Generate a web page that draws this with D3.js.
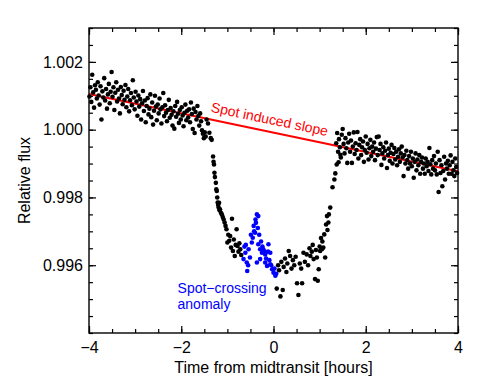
<!DOCTYPE html>
<html>
<head>
<meta charset="utf-8">
<script src="https://cdn.jsdelivr.net/npm/d3@7"></script>
<style>
  body { margin: 0; background: white; }
  svg { display: block; font-family: "Liberation Sans", Arial, Helvetica, sans-serif; }
</style>
</head>
<body>
<script>
// tick values
var xTicks = [-4, -2, 0, 2, 4],
    xMinor = d3.range(-4, 4.01, 0.5),
    yTicks = [0.996, 0.998, 1.000, 1.002],
    yMinor = d3.range(0.994, 1.00301, 0.0005);

// spot induced slope, end points [time, flux]
var slopeLine = [[-4, 1.00105], [4, 0.99877]];

// out of transit, before ingress [time, flux]
var preTransit = [
  [-3.99,1.00098],[-3.97,1.00125],[-3.95,1.00082],[-3.93,1.00162],[-3.91,1.00110],[-3.89,1.00065],
  [-3.87,1.00131],[-3.85,1.00118],[-3.83,1.00092],[-3.81,1.00140],[-3.79,1.00101],[-3.77,1.00074],
  [-3.75,1.00128],[-3.73,1.00030],[-3.71,1.00113],[-3.69,1.00095],[-3.67,1.00152],[-3.65,1.00086],
  [-3.63,1.00120],[-3.61,1.00062],[-3.59,1.00104],[-3.57,1.00135],[-3.55,1.00078],[-3.53,1.00112],
  [-3.51,1.00170],[-3.49,1.00097],[-3.47,1.00125],[-3.45,1.00058],[-3.43,1.00109],[-3.41,1.00140],
  [-3.39,1.00083],[-3.37,1.00118],[-3.35,1.00092],[-3.33,1.00048],[-3.31,1.00126],[-3.29,1.00102],
  [-3.27,1.00075],[-3.25,1.00115],[-3.23,1.00088],[-3.21,1.00132],[-3.19,1.00066],[-3.17,1.00098],
  [-3.15,1.00120],[-3.13,1.00054],[-3.11,1.00087],[-3.09,1.00108],[-3.07,1.00072],[-3.05,1.00146],
  [-3.03,1.00095],[-3.01,1.00060],[-2.99,1.00112],[-2.97,1.00083],[-2.95,1.00041],[-2.93,1.00101],
  [-2.91,1.00068],[-2.89,1.00090],[-2.87,1.00030],[-2.85,1.00078],[-2.83,1.00114],[-2.81,1.00055],
  [-2.79,1.00086],[-2.77,1.00022],[-2.75,1.00070],[-2.73,1.00093],[-2.71,1.00045],[-2.69,1.00062],
  [-2.67,1.00104],[-2.65,1.00037],[-2.63,1.00080],[-2.61,1.00015],[-2.59,1.00056],[-2.57,1.00100],
  [-2.55,1.00068],[-2.53,1.00028],[-2.51,1.00074],[-2.49,1.00048],[-2.47,1.00092],[-2.45,1.00060],
  [-2.43,1.00018],[-2.41,1.00066],[-2.39,1.00108],[-2.37,1.00040],[-2.35,1.00072],[-2.33,1.00050],
  [-2.31,1.00025],[-2.29,1.00058],[-2.27,1.00088],[-2.25,1.00035],[-2.23,1.00064],[-2.21,1.00044],
  [-2.19,1.00012],[-2.17,1.00054],[-2.15,1.00003],[-2.13,1.00070],[-2.11,1.00038],[-2.09,1.00082],
  [-2.07,1.00047],[-2.05,1.00020],[-2.03,1.00058],[-2.01,1.00030],[-1.99,1.00066],[-1.97,1.00042],
  [-1.95,1.00010],[-1.93,1.00050],[-1.91,1.00074],[-1.89,1.00028],[-1.87,1.00056],[-1.85,1.00036],
  [-1.83,1.00060],[-1.81,1.00022],[-1.79,1.00080],[-1.77,1.00046],[-1.75,1.00002],[-1.73,1.00062],
  [-1.71,0.99990],[-1.69,1.00052],[-1.67,1.00030],[-1.65,1.00070],[-1.63,1.00040],[-1.61,1.00012],
  [-1.59,1.00048],[-1.57,1.00025],[-1.55,0.99998],[-1.53,0.99988],[-1.51,0.99975],[-1.49,0.99992],
  [-1.47,0.99980]
];

// ingress and first part of the bottom
var ingress = [
  [-1.45,1.00030],[-1.42,1.00018],[-1.39,0.99991],[-1.36,0.99975],[-1.34,0.99970],[-1.31,0.99921],
  [-1.30,0.99905],[-1.29,0.99897],[-1.28,0.99873],[-1.27,0.99860],[-1.25,0.99843],[-1.24,0.99824],
  [-1.23,0.99819],[-1.22,0.99800],[-1.21,0.99785],[-1.20,0.99778],[-1.19,0.99770],[-1.18,0.99784],
  [-1.17,0.99762],[-1.16,0.99765],[-1.14,0.99755],[-1.12,0.99750],[-1.10,0.99742],[-1.08,0.99735],
  [-1.06,0.99726],[-1.04,0.99716],[-1.02,0.99706],[-1.00,0.99667],[-0.98,0.99690],[-0.96,0.99672],
  [-0.94,0.99686],[-0.92,0.99652],[-0.90,0.99737],[-0.88,0.99642],[-0.86,0.99676],[-0.84,0.99627],
  [-0.82,0.99660],[-0.80,0.99706],[-0.78,0.99657],[-0.76,0.99640],[-0.74,0.99665],[-0.72,0.99647],
  [-0.70,0.99630]
];

// spot-crossing anomaly (blue)
var spotCrossing = [
  [-0.65,0.99618],[-0.63,0.99655],[-0.61,0.99637],[-0.60,0.99660],[-0.58,0.99608],[-0.57,0.99583],
  [-0.55,0.99600],[-0.54,0.99647],[-0.51,0.99623],[-0.49,0.99690],[-0.47,0.99667],[-0.45,0.99681],
  [-0.43,0.99716],[-0.42,0.99700],[-0.40,0.99696],[-0.39,0.99735],[-0.38,0.99725],[-0.36,0.99750],
  [-0.36,0.99608],[-0.34,0.99710],[-0.33,0.99745],[-0.33,0.99662],[-0.31,0.99690],[-0.29,0.99647],
  [-0.29,0.99618],[-0.27,0.99670],[-0.25,0.99637],[-0.24,0.99655],[-0.22,0.99647],[-0.20,0.99640],
  [-0.18,0.99632],[-0.18,0.99608],[-0.16,0.99620],[-0.14,0.99598],[-0.12,0.99640],[-0.11,0.99662],
  [-0.09,0.99615],[-0.07,0.99637],[-0.07,0.99603],[-0.05,0.99600],[-0.03,0.99588],[0.00,0.99578],
  [0.02,0.99590],[0.04,0.99569],[0.06,0.99575]
];

// rest of the bottom and egress
var egress = [
  [0.07,0.99531],[0.10,0.99600],[0.12,0.99585],[0.15,0.99508],[0.17,0.99610],[0.20,0.99527],
  [0.22,0.99595],[0.25,0.99620],[0.28,0.99580],[0.30,0.99605],[0.33,0.99642],[0.36,0.99627],
  [0.39,0.99590],[0.42,0.99615],[0.45,0.99600],[0.48,0.99625],[0.51,0.99547],[0.54,0.99512],
  [0.57,0.99605],[0.60,0.99590],[0.62,0.99547],[0.65,0.99637],[0.68,0.99610],[0.72,0.99632],
  [0.75,0.99600],[0.78,0.99650],[0.80,0.99627],[0.83,0.99640],[0.85,0.99660],[0.87,0.99618],
  [0.90,0.99559],[0.92,0.99645],[0.94,0.99623],[0.96,0.99554],[0.98,0.99588],[1.00,0.99655],
  [1.01,0.99642],[1.03,0.99680],[1.05,0.99647],[1.06,0.99670],[1.08,0.99652],[1.10,0.99691],
  [1.12,0.99623],[1.14,0.99720],[1.16,0.99745],[1.17,0.99704],[1.19,0.99726],[1.20,0.99750],
  [1.23,0.99770],[1.28,0.99830],[1.32,0.99853],[1.34,0.99871]
];

// out of transit, after egress
var postTransit = [
  [1.36,0.99960],[1.37,0.99897],[1.38,0.99990],[1.40,0.99935],[1.41,0.99904],[1.42,0.99972],
  [1.44,0.99948],[1.45,0.99926],[1.46,0.99918],[1.48,0.99985],[1.50,1.00002],[1.52,0.99958],
  [1.54,0.99930],[1.56,0.99975],[1.58,0.99945],[1.60,0.99902],[1.62,0.99962],[1.64,0.99988],
  [1.66,0.99935],[1.68,0.99968],[1.70,0.99902],[1.72,0.99950],[1.74,0.99992],[1.76,0.99928],
  [1.78,0.99960],[1.80,0.99940],[1.82,0.99993],[1.84,0.99915],[1.86,0.99955],[1.88,0.99972],
  [1.90,0.99925],[1.92,0.99948],[1.94,0.99965],[1.96,0.99905],[1.98,0.99940],[2.00,0.99980],
  [2.02,0.99932],[2.04,0.99958],[2.06,0.99912],[2.08,0.99945],[2.10,0.99970],[2.12,0.99922],
  [2.14,0.99950],[2.16,0.99935],[2.18,0.99962],[2.20,0.99910],[2.22,0.99944],[2.24,0.99978],
  [2.26,0.99925],[2.28,0.99980],[2.30,0.99940],[2.32,0.99958],[2.34,0.99896],[2.36,0.99930],
  [2.38,0.99948],[2.40,0.99915],[2.42,0.99938],[2.44,0.99962],[2.46,0.99887],[2.48,0.99925],
  [2.50,0.99944],[2.52,0.99908],[2.54,0.99932],[2.56,0.99955],[2.58,0.99900],[2.60,0.99928],
  [2.62,0.99946],[2.64,0.99912],[2.66,0.99935],[2.68,0.99895],[2.70,0.99920],[2.72,0.99942],
  [2.74,0.99905],[2.76,0.99930],[2.78,0.99950],[2.80,0.99918],[2.82,0.99863],[2.84,0.99925],
  [2.86,0.99900],[2.88,0.99938],[2.90,0.99910],[2.92,0.99885],[2.94,0.99922],[2.96,0.99900],
  [2.98,0.99935],[3.00,0.99892],[3.02,0.99915],[3.04,0.99858],[3.06,0.99905],[3.08,0.99930],
  [3.10,0.99880],[3.12,0.99912],[3.14,0.99895],[3.16,0.99925],[3.18,0.99870],[3.20,0.99905],
  [3.22,0.99918],[3.24,0.99885],[3.26,0.99900],[3.28,0.99870],[3.30,0.99915],[3.32,0.99892],
  [3.34,0.99905],[3.36,0.99878],[3.38,0.99946],[3.40,0.99898],[3.42,0.99868],[3.44,0.99910],
  [3.46,0.99885],[3.48,0.99922],[3.50,0.99880],[3.52,0.99900],[3.54,0.99868],[3.56,0.99935],
  [3.58,0.99816],[3.60,0.99910],[3.62,0.99872],[3.64,0.99895],[3.66,0.99833],[3.68,0.99878],
  [3.70,0.99920],[3.72,0.99853],[3.74,0.99900],[3.76,0.99885],[3.78,0.99908],[3.80,0.99870],
  [3.82,0.99895],[3.84,0.99924],[3.86,0.99870],[3.88,0.99905],[3.90,0.99880],[3.92,0.99863],
  [3.94,0.99915],[3.96,0.99890],[3.98,0.99872]
];

var width = 485,
    height = 390,
    margin = {top: 28, right: 27, bottom: 57, left: 89};

var svg = d3.select("body").append("svg")
    .attr("width", width)
    .attr("height", height)
    .style("background", "white");

var x = d3.scaleLinear().domain([-4, 4]).range([margin.left, width - margin.right]),
    y = d3.scaleLinear().domain([0.994, 1.003]).range([height - margin.bottom, margin.top]);

var x0 = x.range()[0], x1 = x.range()[1],
    y0 = y.range()[0], y1 = y.range()[1];

// slope line
svg.append("line")
    .attr("x1", x(slopeLine[0][0]))
    .attr("y1", y(slopeLine[0][1]))
    .attr("x2", x(slopeLine[1][0]))
    .attr("y2", y(slopeLine[1][1]))
    .attr("stroke", "#ff0000")
    .attr("stroke-width", 2);

// data points
var black = preTransit.concat(ingress, egress, postTransit);

svg.append("g").selectAll("circle")
    .data(black)
  .enter().append("circle")
    .attr("cx", function(d) { return x(d[0]); })
    .attr("cy", function(d) { return y(d[1]); })
    .attr("r", 2.3)
    .attr("fill", "black");

svg.append("g").selectAll("circle")
    .data(spotCrossing)
  .enter().append("circle")
    .attr("cx", function(d) { return x(d[0]); })
    .attr("cy", function(d) { return y(d[1]); })
    .attr("r", 2.3)
    .attr("fill", "#0000ff");

// axes, ticks pointing inward on all four sides
function styleAxis(g) {
  g.select(".domain").remove();
  g.selectAll("line").attr("stroke", "black").attr("stroke-width", 1.2);
  g.selectAll("text").attr("fill", "black").style("font-size", "16px")
      .style("font-family", "'Liberation Sans', Arial, Helvetica, sans-serif");
}

svg.append("g")
    .attr("transform", "translate(0," + y0 + ")")
    .call(d3.axisBottom(x).tickValues(xMinor).tickSize(-4).tickFormat(""))
    .call(styleAxis);
svg.append("g")
    .attr("transform", "translate(0," + y0 + ")")
    .call(d3.axisBottom(x).tickValues(xTicks).tickSize(-7).tickPadding(9).tickFormat(d3.format("d")))
    .call(styleAxis);
svg.append("g")
    .attr("transform", "translate(0," + y1 + ")")
    .call(d3.axisTop(x).tickValues(xMinor).tickSize(-4).tickFormat(""))
    .call(styleAxis);
svg.append("g")
    .attr("transform", "translate(0," + y1 + ")")
    .call(d3.axisTop(x).tickValues(xTicks).tickSize(-7).tickFormat(""))
    .call(styleAxis);

svg.append("g")
    .attr("transform", "translate(" + x0 + ",0)")
    .call(d3.axisLeft(y).tickValues(yMinor).tickSize(-4).tickFormat(""))
    .call(styleAxis);
svg.append("g")
    .attr("transform", "translate(" + x0 + ",0)")
    .call(d3.axisLeft(y).tickValues(yTicks).tickSize(-7).tickPadding(6).tickFormat(d3.format(".3f")))
    .call(styleAxis);
svg.append("g")
    .attr("transform", "translate(" + x1 + ",0)")
    .call(d3.axisRight(y).tickValues(yMinor).tickSize(-4).tickFormat(""))
    .call(styleAxis);
svg.append("g")
    .attr("transform", "translate(" + x1 + ",0)")
    .call(d3.axisRight(y).tickValues(yTicks).tickSize(-7).tickFormat(""))
    .call(styleAxis);

// frame
svg.append("rect")
    .attr("x", x0)
    .attr("y", y1)
    .attr("width", x1 - x0)
    .attr("height", y0 - y1)
    .attr("fill", "none")
    .attr("stroke", "black")
    .attr("stroke-width", 1.4);

// axis titles
svg.append("text")
    .attr("x", (x0 + x1) / 2)
    .attr("y", 373)
    .style("text-anchor", "middle")
    .style("font-size", "16px")
    .text("Time from midtransit [hours]");

svg.append("text")
    .attr("transform", "translate(30," + ((y0 + y1) / 2) + ") rotate(-90)")
    .style("text-anchor", "middle")
    .style("font-size", "16px")
    .text("Relative flux");

// annotations
var angle = Math.atan2(y(slopeLine[1][1]) - y(slopeLine[0][1]),
                       x(slopeLine[1][0]) - x(slopeLine[0][0])) * 180 / Math.PI;

svg.append("text")
    .attr("transform", "translate(" + x(-1.37) + "," + y(1.00053) + ") rotate(" + angle + ")")
    .style("font-size", "14px")
    .style("fill", "#ff0000")
    .text("Spot induced slope");

var blueLabel = svg.append("text")
    .attr("x", x(-2.08))
    .attr("y", 293)
    .style("font-size", "14px")
    .style("fill", "#0000ff");
blueLabel.append("tspan").attr("x", x(-2.08)).text("Spot\u2212crossing");
blueLabel.append("tspan").attr("x", x(-2.08)).attr("dy", 16).text("anomaly");
</script>
</body>
</html>
